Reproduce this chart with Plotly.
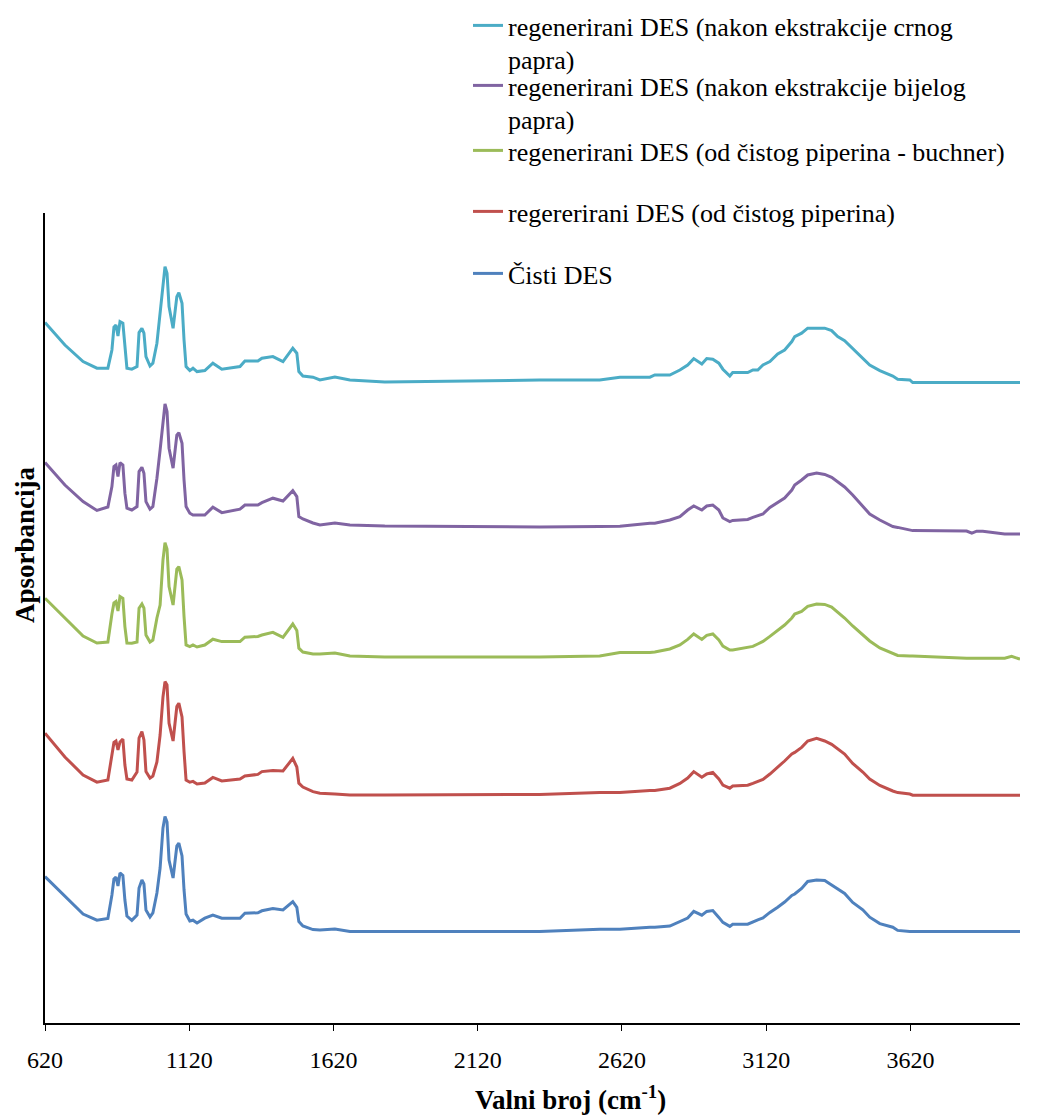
import plotly.graph_objects as go

# ---------------- data ----------------
wavenumbers = [
    620, 689, 752, 800, 838, 852, 859, 866, 873, 880,
    890, 897, 904, 921, 939, 946, 956, 963, 970, 984,
    994, 1008, 1019, 1029, 1036, 1043, 1050, 1064, 1077, 1084,
    1095, 1102, 1109, 1122, 1133, 1147, 1174, 1202, 1233, 1296,
    1313, 1358, 1372, 1410, 1445, 1479, 1493, 1500, 1514, 1549,
    1573, 1625, 1677, 1798, 2335, 2543, 2613, 2717, 2734, 2786,
    2821, 2848, 2869, 2897, 2914, 2935, 2956, 2970, 2994, 3004,
    3056, 3074, 3091, 3109, 3133, 3160, 3184, 3209, 3219, 3243,
    3264, 3295, 3323, 3347, 3368, 3392, 3420, 3455, 3479, 3514,
    3559, 3576, 3618, 3628, 3815, 3833, 3850, 3871, 3947, 3971,
    4000,
]

cisti_des = [
    0.732, 0.633, 0.545, 0.514, 0.523, 0.640, 0.720, 0.730, 0.685, 0.750,
    0.738, 0.615, 0.535, 0.513, 0.540, 0.675, 0.715, 0.695, 0.565, 0.530,
    0.550, 0.650, 0.775, 0.975, 1.032, 1.005, 0.815, 0.725, 0.885, 0.900,
    0.835, 0.665, 0.545, 0.510, 0.514, 0.500, 0.524, 0.540, 0.524, 0.524,
    0.549, 0.551, 0.561, 0.572, 0.565, 0.607, 0.578, 0.507, 0.485, 0.467,
    0.465, 0.470, 0.458, 0.457, 0.458, 0.469, 0.469, 0.479, 0.479, 0.485,
    0.507, 0.525, 0.558, 0.539, 0.558, 0.562, 0.528, 0.503, 0.483, 0.494,
    0.494, 0.507, 0.516, 0.525, 0.553, 0.579, 0.605, 0.638, 0.645, 0.673,
    0.708, 0.715, 0.713, 0.690, 0.672, 0.648, 0.603, 0.566, 0.529, 0.497,
    0.479, 0.463, 0.457, 0.457, 0.457, 0.457, 0.457, 0.457, 0.457, 0.457,
    0.457,
]

od_cistog_piperina = [
    1.449, 1.330, 1.240, 1.204, 1.215, 1.350, 1.403, 1.410, 1.365, 1.405,
    1.420, 1.290, 1.220, 1.215, 1.255, 1.425, 1.457, 1.415, 1.257, 1.225,
    1.235, 1.305, 1.440, 1.630, 1.707, 1.690, 1.499, 1.410, 1.582, 1.599,
    1.530, 1.357, 1.215, 1.204, 1.208, 1.195, 1.200, 1.228, 1.210, 1.220,
    1.235, 1.243, 1.257, 1.263, 1.260, 1.323, 1.280, 1.199, 1.180, 1.157,
    1.149, 1.145, 1.140, 1.140, 1.143, 1.152, 1.152, 1.162, 1.162, 1.174,
    1.198, 1.225, 1.257, 1.229, 1.245, 1.253, 1.220, 1.190, 1.174, 1.185,
    1.189, 1.198, 1.209, 1.218, 1.245, 1.278, 1.310, 1.345, 1.353, 1.378,
    1.410, 1.423, 1.410, 1.393, 1.370, 1.345, 1.298, 1.255, 1.220, 1.188,
    1.160, 1.152, 1.145, 1.139, 1.139, 1.139, 1.139, 1.139, 1.139, 1.139,
    1.139,
]

buchner = [
    2.124, 2.025, 1.935, 1.900, 1.905, 2.045, 2.100, 2.107, 2.060, 2.132,
    2.123, 1.982, 1.900, 1.899, 1.905, 2.074, 2.095, 2.074, 1.940, 1.905,
    1.915, 2.025, 2.090, 2.315, 2.402, 2.370, 2.182, 2.090, 2.270, 2.282,
    2.215, 2.032, 1.890, 1.882, 1.890, 1.880, 1.890, 1.919, 1.907, 1.907,
    1.929, 1.933, 1.940, 1.953, 1.928, 1.995, 1.963, 1.874, 1.855, 1.845,
    1.845, 1.850, 1.835, 1.830, 1.830, 1.835, 1.852, 1.853, 1.855, 1.870,
    1.890, 1.918, 1.945, 1.918, 1.938, 1.945, 1.915, 1.885, 1.865, 1.865,
    1.879, 1.883, 1.895, 1.908, 1.933, 1.965, 1.990, 2.025, 2.045, 2.058,
    2.083, 2.095, 2.093, 2.080, 2.055, 2.025, 1.985, 1.940, 1.910, 1.875,
    1.850, 1.838, 1.835, 1.835, 1.824, 1.824, 1.824, 1.824, 1.824, 1.833,
    1.819,
]

bijeli_papar = [
    2.802, 2.690, 2.607, 2.563, 2.580, 2.682, 2.782, 2.790, 2.732, 2.802,
    2.790, 2.649, 2.574, 2.565, 2.582, 2.757, 2.779, 2.749, 2.607, 2.569,
    2.582, 2.724, 2.865, 3.024, 3.095, 3.057, 2.874, 2.774, 2.940, 2.952,
    2.899, 2.715, 2.582, 2.549, 2.540, 2.540, 2.540, 2.579, 2.552, 2.569,
    2.590, 2.590, 2.602, 2.624, 2.610, 2.662, 2.632, 2.532, 2.520, 2.500,
    2.490, 2.500, 2.490, 2.485, 2.480, 2.482, 2.484, 2.499, 2.499, 2.515,
    2.532, 2.565, 2.585, 2.565, 2.585, 2.590, 2.565, 2.525, 2.507, 2.513,
    2.518, 2.528, 2.535, 2.545, 2.578, 2.605, 2.625, 2.665, 2.690, 2.715,
    2.740, 2.750, 2.743, 2.728, 2.705, 2.680, 2.640, 2.585, 2.545, 2.515,
    2.482, 2.478, 2.465, 2.462, 2.460, 2.449, 2.459, 2.459, 2.445, 2.445,
    2.445,
]

crni_papar = [
    3.502, 3.390, 3.307, 3.274, 3.274, 3.365, 3.479, 3.490, 3.435, 3.507,
    3.499, 3.365, 3.274, 3.269, 3.282, 3.452, 3.474, 3.449, 3.332, 3.285,
    3.299, 3.399, 3.549, 3.715, 3.782, 3.749, 3.582, 3.474, 3.632, 3.652,
    3.599, 3.415, 3.282, 3.262, 3.274, 3.257, 3.262, 3.299, 3.269, 3.282,
    3.310, 3.310, 3.324, 3.332, 3.307, 3.374, 3.349, 3.257, 3.235, 3.229,
    3.215, 3.230, 3.215, 3.205, 3.215, 3.215, 3.229, 3.229, 3.240, 3.240,
    3.265, 3.290, 3.322, 3.295, 3.322, 3.319, 3.299, 3.269, 3.235, 3.252,
    3.252, 3.265, 3.265, 3.290, 3.307, 3.345, 3.365, 3.407, 3.432, 3.449,
    3.474, 3.474, 3.474, 3.462, 3.432, 3.412, 3.374, 3.324, 3.290, 3.262,
    3.235, 3.219, 3.215, 3.202, 3.202, 3.202, 3.202, 3.202, 3.202, 3.202,
    3.202,
]

series_names = [
    "Čisti DES",
    "regererirani DES (od čistog piperina)",
    "regenerirani DES (od čistog piperina - buchner)",
    "regenerirani DES (nakon ekstrakcije bijelog<br>papra)",
    "regenerirani DES (nakon ekstrakcije crnog<br>papra)",
]
series_values = [cisti_des, od_cistog_piperina, buchner, bijeli_papar, crni_papar]
series_colors = ["#4F81BD", "#C0504D", "#9BBB59", "#8064A2", "#4BACC6"]

tick_values = [620, 1120, 1620, 2120, 2620, 3120, 3620]
tick_labels = ["620", "1120", "1620", "2120", "2620", "3120", "3620"]

# ---------------- figure ----------------
FONT = "Liberation Serif, Times New Roman, serif"
W, H = 1050, 1118

legend_ids = ["legend", "legend2", "legend3", "legend4", "legend5"]
# vertical centre (px from top) of first text line of each legend entry
legend_text_y = [276, 214, 153, 88, 28]

fig = go.Figure()
for name, vals, col, lid in zip(series_names, series_values, series_colors, legend_ids):
    fig.add_trace(go.Scatter(
        x=wavenumbers, y=vals, mode="lines", name=name,
        line=dict(color=col, width=3), legend=lid,
    ))

layout_legends = {}
for lid, ty in zip(legend_ids, legend_text_y):
    layout_legends[lid] = dict(
        xref="container", yref="container",
        x=468 / W, xanchor="left",
        y=1 - (ty - 26) / H, yanchor="top",
        valign="top",
        font=dict(family=FONT, size=26, color="black"),
        bgcolor="rgba(0,0,0,0)", borderwidth=0,
        tracegroupgap=0, itemclick=False, itemdoubleclick=False,
    )

fig.update_layout(
    width=W, height=H,
    margin=dict(l=45, r=30, t=213, b=95, autoexpand=False),
    paper_bgcolor="white", plot_bgcolor="white",
    font=dict(family=FONT, size=24, color="black"),
    showlegend=True,
    **layout_legends,
)

fig.update_xaxes(
    range=[620, 4000],
    tickmode="array", tickvals=tick_values, ticktext=tick_labels,
    ticks="outside", ticklen=6, tickwidth=1.3, tickcolor="black",
    ticklabelstandoff=8,
    showline=True, linecolor="black", linewidth=1.5,
    showgrid=False, zeroline=False, automargin=False,
    tickfont=dict(family=FONT, size=24, color="black"),
)
fig.update_yaxes(
    range=[0, 4.05],
    showticklabels=False, ticks="",
    showline=True, linecolor="black", linewidth=1.5,
    showgrid=False, zeroline=False, automargin=False,
)

fig.add_annotation(
    text="<b>Valni broj (cm<sup>-1</sup>)</b>",
    xref="paper", yref="paper",
    x=(570 - 45) / 975, y=(1023 - 1098) / 810,
    xanchor="center", yanchor="middle", showarrow=False,
    font=dict(family=FONT, size=27, color="black"),
)
fig.add_annotation(
    text="<b>Apsorbancija</b>",
    xref="paper", yref="paper",
    x=(25 - 45) / 975, y=(1023 - 545) / 810,
    xanchor="center", yanchor="middle", showarrow=False, textangle=-90,
    font=dict(family=FONT, size=27, color="black"),
)

fig.write_html(
    "out.html",
    config={"displayModeBar": False},
    post_script="document.body.style.margin='0';",
)
